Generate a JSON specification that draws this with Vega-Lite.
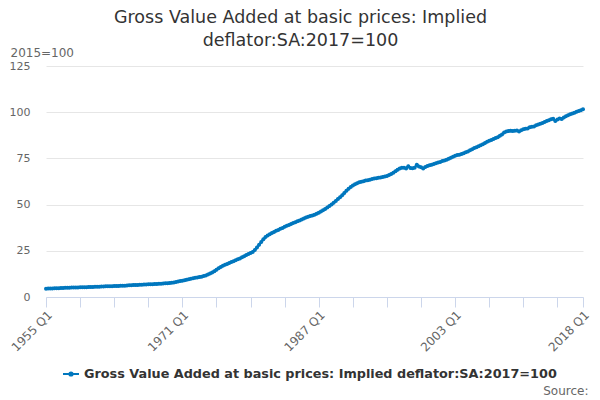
{
  "$schema": "https://vega.github.io/schema/vega-lite/v6.json",
  "width": 537,
  "height": 231,
  "autosize": "none",
  "padding": {"left": 46, "top": 66, "right": 17, "bottom": 103},
  "background": "white",
  "config": {
    "font": "DejaVu Sans",
    "view": {"stroke": null}
  },
  "title": {
    "text": ["Gross Value Added at basic prices: Implied", "deflator:SA:2017=100"],
    "fontSize": 17.5,
    "fontWeight": "normal",
    "color": "#333333",
    "lineHeight": 22.5,
    "anchor": "middle",
    "dx": -14,
    "dy": 7
  },
  "data": {
    "values": [
      {"q":"1955 Q1","v":4.5},{"q":"1955 Q2","v":4.55},{"q":"1955 Q3","v":4.6},{"q":"1955 Q4","v":4.65},
      {"q":"1956 Q1","v":4.7},{"q":"1956 Q2","v":4.75},{"q":"1956 Q3","v":4.8},{"q":"1956 Q4","v":4.85},
      {"q":"1957 Q1","v":4.9},{"q":"1957 Q2","v":4.95},{"q":"1957 Q3","v":5.0},{"q":"1957 Q4","v":5.05},
      {"q":"1958 Q1","v":5.1},{"q":"1958 Q2","v":5.12},{"q":"1958 Q3","v":5.15},{"q":"1958 Q4","v":5.2},
      {"q":"1959 Q1","v":5.25},{"q":"1959 Q2","v":5.28},{"q":"1959 Q3","v":5.3},{"q":"1959 Q4","v":5.33},
      {"q":"1960 Q1","v":5.35},{"q":"1960 Q2","v":5.4},{"q":"1960 Q3","v":5.45},{"q":"1960 Q4","v":5.5},
      {"q":"1961 Q1","v":5.55},{"q":"1961 Q2","v":5.6},{"q":"1961 Q3","v":5.65},{"q":"1961 Q4","v":5.7},
      {"q":"1962 Q1","v":5.75},{"q":"1962 Q2","v":5.78},{"q":"1962 Q3","v":5.82},{"q":"1962 Q4","v":5.85},
      {"q":"1963 Q1","v":5.9},{"q":"1963 Q2","v":5.95},{"q":"1963 Q3","v":6.0},{"q":"1963 Q4","v":6.05},
      {"q":"1964 Q1","v":6.1},{"q":"1964 Q2","v":6.15},{"q":"1964 Q3","v":6.22},{"q":"1964 Q4","v":6.3},
      {"q":"1965 Q1","v":6.36},{"q":"1965 Q2","v":6.44},{"q":"1965 Q3","v":6.5},{"q":"1965 Q4","v":6.56},
      {"q":"1966 Q1","v":6.62},{"q":"1966 Q2","v":6.68},{"q":"1966 Q3","v":6.72},{"q":"1966 Q4","v":6.78},
      {"q":"1967 Q1","v":6.85},{"q":"1967 Q2","v":6.9},{"q":"1967 Q3","v":6.95},{"q":"1967 Q4","v":7.0},
      {"q":"1968 Q1","v":7.05},{"q":"1968 Q2","v":7.12},{"q":"1968 Q3","v":7.2},{"q":"1968 Q4","v":7.3},
      {"q":"1969 Q1","v":7.4},{"q":"1969 Q2","v":7.5},{"q":"1969 Q3","v":7.62},{"q":"1969 Q4","v":7.75},
      {"q":"1970 Q1","v":7.9},{"q":"1970 Q2","v":8.1},{"q":"1970 Q3","v":8.35},{"q":"1970 Q4","v":8.6},
      {"q":"1971 Q1","v":8.85},{"q":"1971 Q2","v":9.1},{"q":"1971 Q3","v":9.35},{"q":"1971 Q4","v":9.6},
      {"q":"1972 Q1","v":9.85},{"q":"1972 Q2","v":10.1},{"q":"1972 Q3","v":10.35},{"q":"1972 Q4","v":10.6},
      {"q":"1973 Q1","v":10.8},{"q":"1973 Q2","v":11.0},{"q":"1973 Q3","v":11.3},{"q":"1973 Q4","v":11.7},
      {"q":"1974 Q1","v":12.2},{"q":"1974 Q2","v":12.7},{"q":"1974 Q3","v":13.3},{"q":"1974 Q4","v":14.0},
      {"q":"1975 Q1","v":14.8},{"q":"1975 Q2","v":15.6},{"q":"1975 Q3","v":16.3},{"q":"1975 Q4","v":16.9},
      {"q":"1976 Q1","v":17.4},{"q":"1976 Q2","v":17.9},{"q":"1976 Q3","v":18.4},{"q":"1976 Q4","v":18.9},
      {"q":"1977 Q1","v":19.4},{"q":"1977 Q2","v":19.9},{"q":"1977 Q3","v":20.4},{"q":"1977 Q4","v":20.9},
      {"q":"1978 Q1","v":21.5},{"q":"1978 Q2","v":22.1},{"q":"1978 Q3","v":22.7},{"q":"1978 Q4","v":23.3},
      {"q":"1979 Q1","v":23.8},{"q":"1979 Q2","v":24.4},{"q":"1979 Q3","v":25.4},{"q":"1979 Q4","v":26.8},
      {"q":"1980 Q1","v":28.3},{"q":"1980 Q2","v":29.8},{"q":"1980 Q3","v":31.2},{"q":"1980 Q4","v":32.4},
      {"q":"1981 Q1","v":33.3},{"q":"1981 Q2","v":33.9},{"q":"1981 Q3","v":34.6},{"q":"1981 Q4","v":35.2},
      {"q":"1982 Q1","v":35.8},{"q":"1982 Q2","v":36.3},{"q":"1982 Q3","v":36.9},{"q":"1982 Q4","v":37.4},
      {"q":"1983 Q1","v":38.0},{"q":"1983 Q2","v":38.5},{"q":"1983 Q3","v":39.0},{"q":"1983 Q4","v":39.5},
      {"q":"1984 Q1","v":40.0},{"q":"1984 Q2","v":40.5},{"q":"1984 Q3","v":41.0},{"q":"1984 Q4","v":41.4},
      {"q":"1985 Q1","v":41.9},{"q":"1985 Q2","v":42.5},{"q":"1985 Q3","v":43.0},{"q":"1985 Q4","v":43.4},
      {"q":"1986 Q1","v":43.8},{"q":"1986 Q2","v":44.1},{"q":"1986 Q3","v":44.5},{"q":"1986 Q4","v":45.0},
      {"q":"1987 Q1","v":45.6},{"q":"1987 Q2","v":46.2},{"q":"1987 Q3","v":46.9},{"q":"1987 Q4","v":47.6},
      {"q":"1988 Q1","v":48.4},{"q":"1988 Q2","v":49.2},{"q":"1988 Q3","v":50.1},{"q":"1988 Q4","v":51.0},
      {"q":"1989 Q1","v":52.0},{"q":"1989 Q2","v":53.0},{"q":"1989 Q3","v":54.0},{"q":"1989 Q4","v":55.1},
      {"q":"1990 Q1","v":56.3},{"q":"1990 Q2","v":57.5},{"q":"1990 Q3","v":58.6},{"q":"1990 Q4","v":59.5},
      {"q":"1991 Q1","v":60.3},{"q":"1991 Q2","v":61.0},{"q":"1991 Q3","v":61.6},{"q":"1991 Q4","v":62.1},
      {"q":"1992 Q1","v":62.4},{"q":"1992 Q2","v":62.7},{"q":"1992 Q3","v":63.0},{"q":"1992 Q4","v":63.2},
      {"q":"1993 Q1","v":63.5},{"q":"1993 Q2","v":63.8},{"q":"1993 Q3","v":64.1},{"q":"1993 Q4","v":64.3},
      {"q":"1994 Q1","v":64.5},{"q":"1994 Q2","v":64.7},{"q":"1994 Q3","v":64.9},{"q":"1994 Q4","v":65.2},
      {"q":"1995 Q1","v":65.5},{"q":"1995 Q2","v":66.0},{"q":"1995 Q3","v":66.6},{"q":"1995 Q4","v":67.3},
      {"q":"1996 Q1","v":68.1},{"q":"1996 Q2","v":68.9},{"q":"1996 Q3","v":69.6},{"q":"1996 Q4","v":69.9},
      {"q":"1997 Q1","v":70.0},{"q":"1997 Q2","v":69.6},{"q":"1997 Q3","v":70.8},{"q":"1997 Q4","v":69.8},
      {"q":"1998 Q1","v":69.7},{"q":"1998 Q2","v":70.0},{"q":"1998 Q3","v":71.6},{"q":"1998 Q4","v":70.6},
      {"q":"1999 Q1","v":70.2},{"q":"1999 Q2","v":69.6},{"q":"1999 Q3","v":70.3},{"q":"1999 Q4","v":70.9},
      {"q":"2000 Q1","v":71.3},{"q":"2000 Q2","v":71.6},{"q":"2000 Q3","v":72.0},{"q":"2000 Q4","v":72.4},
      {"q":"2001 Q1","v":72.8},{"q":"2001 Q2","v":73.1},{"q":"2001 Q3","v":73.6},{"q":"2001 Q4","v":73.9},
      {"q":"2002 Q1","v":74.3},{"q":"2002 Q2","v":74.8},{"q":"2002 Q3","v":75.3},{"q":"2002 Q4","v":75.9},
      {"q":"2003 Q1","v":76.4},{"q":"2003 Q2","v":76.9},{"q":"2003 Q3","v":77.0},{"q":"2003 Q4","v":77.4},
      {"q":"2004 Q1","v":77.8},{"q":"2004 Q2","v":78.3},{"q":"2004 Q3","v":78.8},{"q":"2004 Q4","v":79.4},
      {"q":"2005 Q1","v":80.0},{"q":"2005 Q2","v":80.6},{"q":"2005 Q3","v":81.1},{"q":"2005 Q4","v":81.6},
      {"q":"2006 Q1","v":82.1},{"q":"2006 Q2","v":82.6},{"q":"2006 Q3","v":83.3},{"q":"2006 Q4","v":84.0},
      {"q":"2007 Q1","v":84.5},{"q":"2007 Q2","v":85.0},{"q":"2007 Q3","v":85.5},{"q":"2007 Q4","v":86.0},
      {"q":"2008 Q1","v":86.5},{"q":"2008 Q2","v":87.2},{"q":"2008 Q3","v":88.0},{"q":"2008 Q4","v":89.0},
      {"q":"2009 Q1","v":89.6},{"q":"2009 Q2","v":89.8},{"q":"2009 Q3","v":89.9},{"q":"2009 Q4","v":89.8},
      {"q":"2010 Q1","v":90.0},{"q":"2010 Q2","v":90.1},{"q":"2010 Q3","v":89.6},{"q":"2010 Q4","v":90.2},
      {"q":"2011 Q1","v":90.8},{"q":"2011 Q2","v":91.0},{"q":"2011 Q3","v":91.2},{"q":"2011 Q4","v":91.9},
      {"q":"2012 Q1","v":92.1},{"q":"2012 Q2","v":92.3},{"q":"2012 Q3","v":92.9},{"q":"2012 Q4","v":93.4},
      {"q":"2013 Q1","v":93.8},{"q":"2013 Q2","v":94.2},{"q":"2013 Q3","v":94.7},{"q":"2013 Q4","v":95.3},
      {"q":"2014 Q1","v":95.6},{"q":"2014 Q2","v":96.2},{"q":"2014 Q3","v":96.5},{"q":"2014 Q4","v":95.2},
      {"q":"2015 Q1","v":96.0},{"q":"2015 Q2","v":96.6},{"q":"2015 Q3","v":96.3},{"q":"2015 Q4","v":97.1},
      {"q":"2016 Q1","v":97.8},{"q":"2016 Q2","v":98.4},{"q":"2016 Q3","v":98.9},{"q":"2016 Q4","v":99.3},
      {"q":"2017 Q1","v":99.7},{"q":"2017 Q2","v":100.2},{"q":"2017 Q3","v":100.6},{"q":"2017 Q4","v":101.0},
      {"q":"2018 Q1","v":101.6}
    ]
  },
  "mark": {
    "type": "line",
    "strokeWidth": 2.5,
    "point": {"filled": true, "size": 16}
  },
  "encoding": {
    "x": {
      "field": "q",
      "type": "ordinal",
      "sort": null,
      "scale": {"type": "point", "padding": 0},
      "axis": {
        "values": ["1955 Q1","1959 Q1","1963 Q1","1967 Q1","1971 Q1","1975 Q1","1979 Q1","1983 Q1","1987 Q1","1991 Q1","1995 Q1","1999 Q1","2003 Q1","2007 Q1","2011 Q1","2015 Q1","2018 Q1"],
        "labelExpr": "indexof(['1955 Q1','1971 Q1','1987 Q1','2003 Q1','2018 Q1'], datum.label) >= 0 ? datum.label : ''",
        "labelAngle": -45,
        "labelFontSize": 12,
        "labelColor": "#666666",
        "labelPadding": 2,
        "tickSize": 10,
        "tickColor": "#ccd6eb",
        "domainColor": "#ccd6eb",
        "grid": false,
        "title": "Source:",
        "titleAnchor": "end",
        "titleAlign": "right",
        "titleX": 542,
        "titleY": 97,
        "titleBaseline": "alphabetic",
        "titleFontSize": 12,
        "titleFontWeight": "normal",
        "titleColor": "#666666"
      }
    },
    "y": {
      "field": "v",
      "type": "quantitative",
      "scale": {"domain": [0, 125]},
      "axis": {
        "values": [0, 25, 50, 75, 100, 125],
        "domain": false,
        "ticks": false,
        "gridColor": "#e6e6e6",
        "labelFontSize": 11,
        "labelColor": "#666666",
        "labelPadding": 16,
        "title": "2015=100",
        "titleAngle": 0,
        "titleAlign": "left",
        "titleAnchor": "start",
        "titleX": -36,
        "titleY": -10,
        "titleBaseline": "alphabetic",
        "titleFontSize": 12,
        "titleFontWeight": "normal",
        "titleColor": "#666666"
      }
    },
    "color": {
      "datum": "Gross Value Added at basic prices: Implied deflator:SA:2017=100",
      "scale": {"range": ["#0077be"]},
      "legend": {
        "title": null,
        "orient": "none",
        "legendX": 16,
        "legendY": 299,
        "symbolType": "M-1,0L1,0M-0.2,0A0.2,0.2,0,1,0,0.2,0A0.2,0.2,0,1,0,-0.2,0Z",
        "symbolSize": 256,
        "symbolStrokeWidth": 2,
        "symbolStrokeColor": "#0077be",
        "symbolFillColor": "#0077be",
        "labelFontSize": 12.8,
        "labelFontWeight": "bold",
        "labelColor": "#333333",
        "labelLimit": 600
      }
    }
  }
}
